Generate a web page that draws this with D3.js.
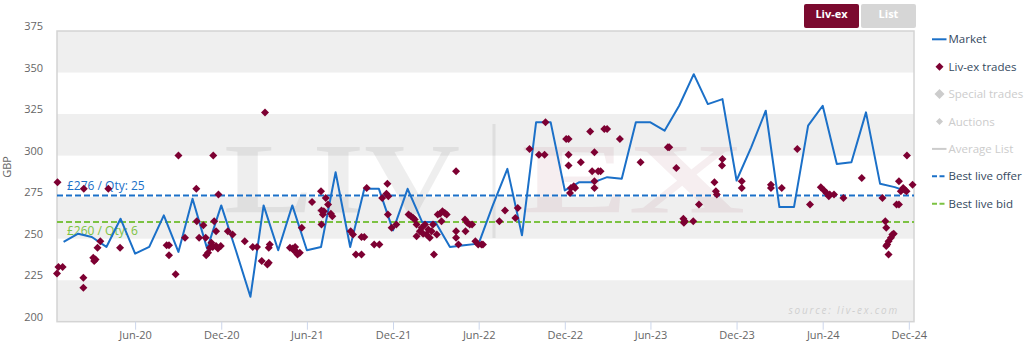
<!DOCTYPE html>
<html><head><meta charset="utf-8">
<script src="https://cdn.jsdelivr.net/npm/d3@7"></script>
<style>
body{margin:0;background:#fff;}
svg{display:block;font-family:"Open Sans",sans-serif;}
</style>
</head><body>
<svg id="chart" width="1024" height="347"></svg>
<script>
// ---------- DATA ----------
const marketMonths = [
 "2020-01","2020-02","2020-03","2020-04","2020-05","2020-06","2020-07","2020-08","2020-09","2020-10","2020-11","2020-12",
 "2021-01","2021-02","2021-03","2021-04","2021-05","2021-06","2021-07","2021-08","2021-09","2021-10","2021-11","2021-12",
 "2022-01","2022-02","2022-03","2022-04","2022-05","2022-06","2022-07","2022-08","2022-09","2022-10","2022-11","2022-12",
 "2023-01","2023-02","2023-03","2023-04","2023-05","2023-06","2023-07","2023-08","2023-09","2023-10","2023-11","2023-12",
 "2024-01","2024-02","2024-03","2024-04","2024-05","2024-06","2024-07","2024-08","2024-09","2024-10","2024-11","2024-12"];
const marketPrices = [
 248,253,251,245,262,241,245,264,242,274,244,270,
 243,215,270,243,270,243,245,290,245,280,280,255,
 280,260,260,245,246,247,270,292,252,320,320,279,
 284,284,287,286,320,320,315,330,349,331,334,285,
 305,327,269,269,318,330,295,296,326,283,281,278];

const tradeDates = [
 "2019-12-19","2019-12-18","2019-12-21","2019-12-30","2020-02-13","2020-02-12","2020-02-12","2020-03-04","2020-03-06","2020-03-09",
 "2020-03-13","2020-03-19","2020-04-05","2020-04-30","2020-08-07","2020-08-12","2020-08-12","2020-08-26","2020-09-01","2020-09-15",
 "2020-10-09","2020-10-10","2020-10-15","2020-10-24","2020-10-29","2020-10-30","2020-11-03","2020-11-07","2020-11-10","2020-11-13",
 "2020-11-14","2020-11-16","2020-11-20","2020-11-20","2020-11-24","2020-11-25","2020-11-30","2020-12-15","2020-12-25","2021-01-20",
 "2021-02-06","2021-02-15","2021-02-25","2021-03-04","2021-03-09","2021-03-12","2021-03-12","2021-03-14","2021-04-26","2021-05-02",
 "2021-05-04","2021-05-07","2021-05-10","2021-05-12","2021-05-17","2021-05-21","2021-06-12","2021-07-01","2021-07-02","2021-07-05",
 "2021-07-07","2021-07-02","2021-07-11","2021-07-16","2021-07-22","2021-07-25","2021-09-02","2021-09-07","2021-09-13","2021-09-25",
 "2021-09-25","2021-10-01","2021-10-06","2021-10-22","2021-11-02","2021-11-08","2021-11-17","2021-11-19","2021-11-21","2021-11-20",
 "2021-11-28","2021-12-08","2022-01-03","2022-01-08","2022-01-13","2022-01-16","2022-01-20","2022-01-27","2022-01-20","2022-01-31",
 "2022-02-03","2022-02-07","2022-02-10","2022-02-14","2022-02-17","2022-02-21","2022-02-24","2022-02-26","2022-03-04","2022-03-06",
 "2022-03-11","2022-03-14","2022-03-16","2022-03-21","2022-03-25","2022-04-14","2022-04-14","2022-04-14","2022-04-19","2022-05-03",
 "2022-05-04","2022-05-08","2022-05-13","2022-05-18","2022-05-25","2022-05-31","2022-06-07","2022-06-10","2022-07-15","2022-07-27",
 "2022-08-18","2022-08-23","2022-09-17","2022-10-07","2022-10-19","2022-10-21","2022-12-04","2022-12-09","2022-12-09","2022-12-09",
 "2022-12-12","2022-12-14","2022-12-20","2022-12-23","2023-01-04","2023-01-24","2023-01-28","2023-02-02","2023-02-02","2023-02-02",
 "2023-02-10","2023-02-15","2023-02-23","2023-03-01","2023-03-28","2023-05-11","2023-07-08","2023-07-11","2023-07-26","2023-08-10",
 "2023-08-11","2023-08-13","2023-08-31","2023-09-12","2023-10-15","2023-10-18","2023-10-20","2023-10-31","2023-11-01","2023-12-12",
 "2023-12-12","2024-02-12","2024-02-12","2024-03-06","2024-04-08","2024-05-05","2024-05-28","2024-06-04","2024-06-09","2024-06-14",
 "2024-06-16","2024-06-25","2024-07-15","2024-08-23","2024-10-06","2024-10-12","2024-10-14","2024-10-14","2024-10-16","2024-10-19",
 "2024-10-19","2024-10-24","2024-10-27","2024-10-30","2024-11-05","2024-11-10","2024-11-10","2024-11-14","2024-11-19","2024-11-22",
 "2024-11-26","2024-11-27","2024-12-09"];
const tradePrices = [
 284,229,233,233,280,226.5,220.5,238.5,236.5,237.5,
 244.5,248.5,280,244.5,246,246,240,228.5,300,250.5,
 280,260.5,250.5,258,250.5,240,241.5,244.5,247.5,245,
 300,260.5,254.5,245.5,244,276.5,245.5,254.5,252.5,248.5,
 245,245,236.5,326,234.5,235.5,244.5,246.5,244.5,244,
 243,245,242,240.5,241.5,256.5,272,278.5,267,264.5,
 266.5,258.5,274.5,270.5,265,263.5,254.5,252.5,240.5,240.5,
 251,251,280.5,246.5,246.5,274.5,277,283,275.5,264.5,
 256.5,258.5,264.5,263.5,262.5,261.5,258.5,254.5,251.5,256.5,
 253,258.5,252.5,255.5,250.5,254.5,258.5,240.5,252.5,264.5,
 265,260.5,266.5,265.5,264.5,290.5,254.5,250.5,246.5,261.5,
 254.5,259.5,258.5,258.5,248.5,246.5,246.5,246.5,260.5,267,
 262.5,268.5,304,300.5,300.5,320,310,310,300.5,294,
 277.5,280.5,281.5,280.5,296,314.5,290.5,302,284.5,280.5,
 290.5,290.5,316,316,310,296,305,305,292.5,262,
 259.5,260.5,260.5,270.5,284,278.5,276.5,294,298,284.5,
 280.5,282.5,280.5,280.5,304,270.5,281,279,277.5,275.5,
 276.5,276.5,274.5,286.5,274.5,260.5,256.5,245.5,246.5,248.5,
 240.5,250.5,252.5,253,270.5,270.5,284.5,278.5,280.5,279.5,
 278.5,300,282.5];

const yTicks = [200,225,250,275,300,325,350,375];
const xTickLabels = ["Jun-20","Dec-20","Jun-21","Dec-21","Jun-22","Dec-22","Jun-23","Dec-23","Jun-24","Dec-24"];
const xDomain = ["2019-12-18","2024-12-12"];
const bestOffer = 276, bestOfferQty = 25;
const bestBid = 260, bestBidQty = 6;
const legendNames = ["Market","Liv-ex trades","Special trades","Auctions","Average List","Best live offer","Best live bid"];
const buttonLabels = ["Liv-ex","List"];

// ---------- LAYOUT / STYLE ----------
const plot = {left: 57, right: 914, top: 31, bottom: 321.7};
const C = {
  market: "#1b70c8", trade: "#7d0032", offer: "#1b70c8", bid: "#7cc242",
  band: "#efefef", border: "#d4d4d4", axisText: "#666666", tick: "#ccd6eb",
  legend: "#34495e", legendOff: "#cccccc", btnOn: "#7b0a2f", btnOff: "#d6d6d6"
};

const parseDay = d3.timeParse("%Y-%m-%d");
const parseMonth = d3.timeParse("%Y-%m");
const parseTick = d3.timeParse("%b-%y");

const x = d3.scaleTime().domain(xDomain.map(parseDay)).range([plot.left, plot.right]);
const y = d3.scaleLinear().domain([200, 375]).range([plot.bottom, plot.top]);

const svg = d3.select("#chart");

// plot bands (alternating)
const bandPairs = d3.pairs(yTicks);
svg.append("g").selectAll("rect").data(bandPairs).join("rect")
  .attr("x", plot.left).attr("width", plot.right - plot.left)
  .attr("y", d => y(d[1])).attr("height", d => y(d[0]) - y(d[1]))
  .attr("fill", (d, i) => i % 2 === 0 ? C.band : "#ffffff");

// watermark
const wm = svg.append("g").attr("pointer-events", "none");
wm.append("text").text("LIV")
  .attr("x", 224).attr("y", 212)
  .attr("font-family", "'Liberation Serif','DejaVu Serif',serif")
  .attr("font-weight", "bold").attr("font-size", 100)
  .attr("textLength", 236).attr("lengthAdjust", "spacingAndGlyphs")
  .attr("fill", "#000").attr("fill-opacity", 0.065);
wm.append("line").attr("x1", 494).attr("x2", 494).attr("y1", 124).attr("y2", 238)
  .attr("stroke", "#000").attr("stroke-opacity", 0.07).attr("stroke-width", 3);
wm.append("text").text("EX")
  .attr("x", 521).attr("y", 212)
  .attr("font-family", "'Liberation Serif','DejaVu Serif',serif")
  .attr("font-weight", "bold").attr("font-size", 100)
  .attr("textLength", 224).attr("lengthAdjust", "spacingAndGlyphs")
  .attr("fill", "#8b1a3c").attr("fill-opacity", 0.075);

// plot border
svg.append("rect")
  .attr("x", plot.left).attr("y", plot.top)
  .attr("width", plot.right - plot.left).attr("height", plot.bottom - plot.top)
  .attr("fill", "none").attr("stroke", C.border).attr("stroke-width", 1.5);

// source credit
svg.append("text").text("source: liv-ex.com")
  .attr("x", 899).attr("y", 314).attr("text-anchor", "end")
  .attr("font-size", 10).attr("font-style", "italic")
  .attr("letter-spacing", 1.8).attr("fill", "#cfcfcf");

// y axis labels
svg.append("g").selectAll("text").data(yTicks).join("text")
  .attr("x", 43).attr("y", d => y(d) - 1)
  .attr("text-anchor", "end").attr("font-size", 11).attr("fill", C.axisText)
  .text(d => d);
svg.append("text").text("GBP")
  .attr("transform", "translate(11,167) rotate(-90)")
  .attr("text-anchor", "middle").attr("font-size", 11).attr("fill", C.axisText);

// x axis
const xAxis = d3.axisBottom(x)
  .tickValues(xTickLabels.map(parseTick))
  .tickFormat(d3.timeFormat("%b-%y"))
  .tickSize(8).tickPadding(2);
const gx = svg.append("g").attr("transform", `translate(0,${plot.bottom})`).call(xAxis);
gx.select(".domain").remove();
gx.selectAll(".tick line").attr("stroke", C.tick);
gx.selectAll(".tick text").attr("fill", C.axisText).attr("font-size", 11)
  .attr("font-family", "'Open Sans',sans-serif");

// best offer / bid plot lines
svg.append("line").attr("x1", plot.left).attr("x2", plot.right)
  .attr("y1", y(bestOffer)).attr("y2", y(bestOffer))
  .attr("stroke", C.offer).attr("stroke-width", 2).attr("stroke-dasharray", "6,3");
svg.append("line").attr("x1", plot.left).attr("x2", plot.right)
  .attr("y1", y(bestBid)).attr("y2", y(bestBid))
  .attr("stroke", C.bid).attr("stroke-width", 2).attr("stroke-dasharray", "6,3");
svg.append("text").text(`£${bestOffer} / Qty: ${bestOfferQty}`)
  .attr("x", 67).attr("y", y(bestOffer) - 5).attr("font-size", 12).attr("fill", C.offer);
svg.append("text").text(`£${bestBid} / Qty: ${bestBidQty}`)
  .attr("x", 67).attr("y", y(bestBid) + 13).attr("font-size", 12).attr("fill", C.bid);

// market line
const marketData = marketMonths.map((m, i) => ({date: parseMonth(m), v: marketPrices[i]}));
svg.append("path").datum(marketData)
  .attr("fill", "none").attr("stroke", C.market).attr("stroke-width", 2)
  .attr("stroke-linejoin", "round")
  .attr("d", d3.line().x(d => x(d.date)).y(d => y(d.v)));

// trades
const diamond = r => `M0,${-r}L${r},0L0,${r}L${-r},0Z`;
const trades = tradeDates.map((d, i) => ({date: parseDay(d), v: tradePrices[i]}));
svg.append("g").selectAll("path").data(trades).join("path")
  .attr("transform", d => `translate(${x(d.date)},${y(d.v)})`)
  .attr("d", diamond(4)).attr("fill", C.trade);

// buttons
const btn = svg.append("g");
const btnX = [804, 861];
buttonLabels.forEach((lab, i) => {
  btn.append("rect").attr("x", btnX[i]).attr("y", 4).attr("width", 55).attr("height", 24)
    .attr("rx", 2).attr("fill", i === 0 ? C.btnOn : C.btnOff);
  btn.append("text").text(lab).attr("x", btnX[i] + 27.5).attr("y", 18)
    .attr("text-anchor", "middle").attr("font-size", 11).attr("font-weight", "bold")
    .attr("fill", "#ffffff");
});

// legend
const lg = svg.append("g");
const lgY0 = 39.3, lgStep = 27.4, lgSymX = 939.5, lgTextX = 948.5;
legendNames.forEach((name, i) => {
  const yy = lgY0 + i * lgStep;
  const off = (i >= 2 && i <= 4);
  const g = lg.append("g");
  if (i === 0) {
    g.append("line").attr("x1", 932).attr("x2", 946.5).attr("y1", yy).attr("y2", yy)
      .attr("stroke", C.market).attr("stroke-width", 2);
  } else if (i === 1) {
    g.append("path").attr("d", diamond(4)).attr("transform", `translate(${lgSymX},${yy})`).attr("fill", C.trade);
  } else if (i === 2) {
    g.append("path").attr("d", diamond(5)).attr("transform", `translate(${lgSymX},${yy})`).attr("fill", C.legendOff);
  } else if (i === 3) {
    g.append("path").attr("d", diamond(3.5)).attr("transform", `translate(${lgSymX},${yy})`).attr("fill", C.legendOff);
  } else if (i === 4) {
    g.append("line").attr("x1", 932).attr("x2", 946.5).attr("y1", yy).attr("y2", yy)
      .attr("stroke", C.legendOff).attr("stroke-width", 2);
  } else {
    g.append("line").attr("x1", 932).attr("x2", 946.5).attr("y1", yy).attr("y2", yy)
      .attr("stroke", i === 5 ? C.offer : C.bid).attr("stroke-width", 2).attr("stroke-dasharray", "5,2.5");
  }
  g.append("text").text(name).attr("x", lgTextX).attr("y", yy + 4)
    .attr("font-size", 11.5).attr("fill", off ? C.legendOff : C.legend);
});
</script>
</body></html>
